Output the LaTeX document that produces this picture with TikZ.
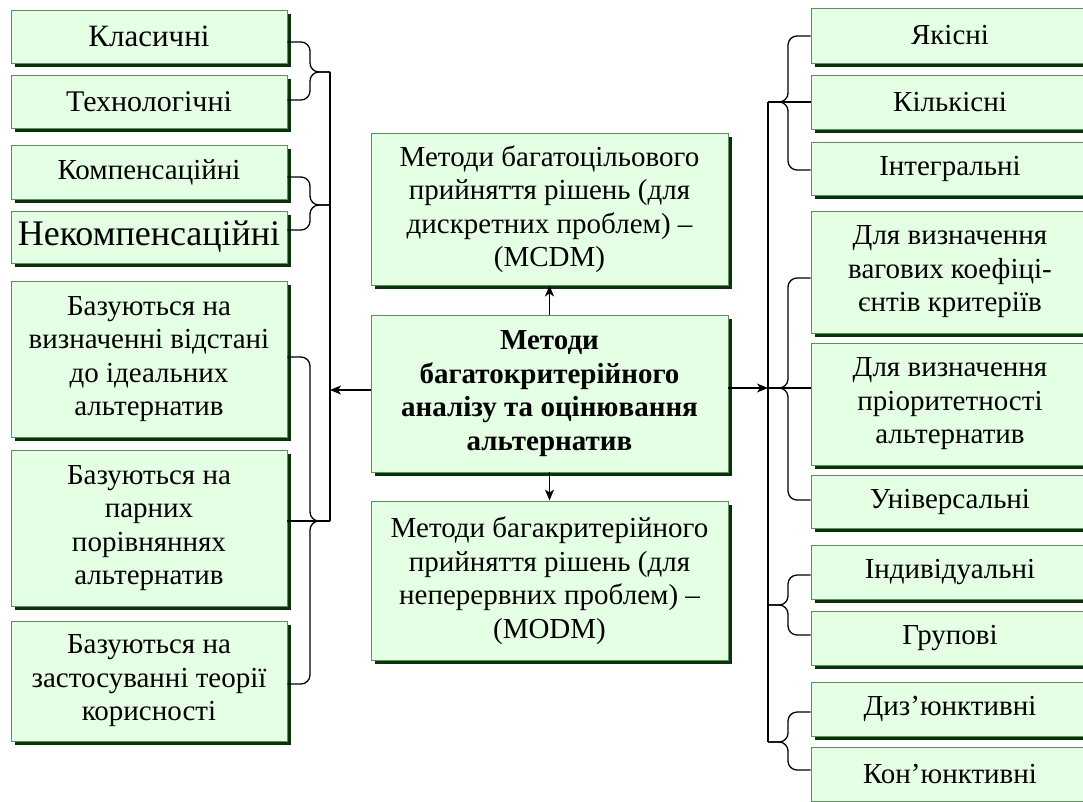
\documentclass[tikz,border=0pt]{standalone}
\usepackage{fontspec}
\setmainfont{Liberation Serif}
\usetikzlibrary{arrows.meta,shadows}
\definecolor{boxfill}{RGB}{229,255,229}
\definecolor{boxline}{RGB}{100,138,100}
\definecolor{shadowgreen}{RGB}{6,52,6}
\tikzset{
  x=1pt, y=-1pt,
  box/.style={rectangle, draw=boxline, line width=0.9pt, fill=boxfill, inner sep=0pt,
    align=center, font=\fontsize{29}{33.5}\selectfont,
    drop shadow={shadow xshift=3.5pt, shadow yshift=-3.5pt, fill=shadowgreen, opacity=1}},
  lbox/.style={box, minimum width=276pt},
  cbox/.style={box, minimum width=357pt},
  rbox/.style={box, minimum width=278pt},
  conn/.style={draw=black, line width=1.3pt},
  brc/.style={conn, rounded corners=9pt},
  arr/.style={conn, -{Stealth[length=11pt,width=9pt,inset=3pt]}}
}
\begin{document}
\begin{tikzpicture}
\useasboundingbox (0,0) rectangle (1083,801);

% left column
\node[lbox, minimum height=53pt, font=\fontsize{31}{34}\selectfont]  (L1) at (149,36.5) {Класичні};
\node[lbox, minimum height=53pt, font=\fontsize{30}{34}\selectfont]  (L2) at (149,101.5) {Технологічні};
\node[lbox, minimum height=54pt]  (L3) at (149,172) {Компенсаційні};
\node[lbox, minimum height=52pt, font=\fontsize{36}{38}\selectfont]  (L4) at (149,237) {Некомпенсаційні};
\node[lbox, minimum height=156pt] (L5) at (149,359) {Базуються на\\визначенні відстані\\до ідеальних\\альтернатив};
\node[lbox, minimum height=156pt] (L6) at (149,528) {Базуються на\\парних\\порівняннях\\альтернатив};
\node[lbox, minimum height=120pt] (L7) at (149,681) {Базуються на\\застосуванні теорії\\корисності};

% centre column
\node[cbox, minimum height=152pt] (C1) at (549.5,209) {Методи багатоцільового\\прийняття рішень (для\\дискретних проблем) –\\(MCDM)};
\node[cbox, minimum height=157pt, font=\fontsize{29}{33.5}\selectfont\bfseries] (C0) at (549.5,393.5) {Методи\\багатокритерійного\\аналізу та оцінювання\\альтернатив};
\node[cbox, minimum height=159pt] (C2) at (549.5,580.5) {Методи багакритерійного\\прийняття рішень (для\\неперервних проблем) –\\(MODM)};

% right column
\node[rbox, minimum height=55pt]  (R1) at (950,35.5) {Якісні};
\node[rbox, minimum height=54pt]  (R2) at (950,102) {Кількісні};
\node[rbox, minimum height=53pt]  (R3) at (950,168.5) {Інтегральні};
\node[rbox, minimum height=122pt] (R4) at (950,272) {Для визначення\\вагових коефіці-\\єнтів критеріїв};
\node[rbox, minimum height=122pt] (R5) at (950,404) {Для визначення\\пріоритетності\\альтернатив};
\node[rbox, minimum height=53pt]  (R6) at (950,501.5) {Універсальні};
\node[rbox, minimum height=54pt]  (R7) at (950,572) {Індивідуальні};
\node[rbox, minimum height=54pt]  (R8) at (950,638) {Групові};
\node[rbox, minimum height=54pt]  (R9) at (950,709) {Диз’юнктивні};
\node[rbox, minimum height=54pt]  (R10) at (950,774) {Кон’юнктивні};

% brace tips on the left trunk
\coordinate (lt1) at (330,72);
\coordinate (lt2) at (330,205);
\coordinate (lt3) at (330,521);
\coordinate (lin) at (330,390);
% brace tips on the right trunk
\coordinate (rt1) at (768,102);
\coordinate (rt2) at (768,388);
\coordinate (rt3) at (768,605);
\coordinate (rt4) at (768,742);

% left braces
\draw[brc] ([yshift=-5.5pt]L1.east) -- (310,42) -- (310,72) -- (lt1);
\draw[brc] ([yshift=1.5pt]L2.east) -- (310,100) -- (310,72) -- (lt1);
\draw[brc] ([yshift=-5pt]L3.east) -- (310,177) -- (310,205) -- (lt2);
\draw[brc] ([yshift=7pt]L4.east) -- (310,230) -- (310,205) -- (lt2);
\draw[brc] ([yshift=2pt]L5.east) -- (310,357) -- (310,521) -- (lt3);
\draw[brc] ([yshift=-3pt]L7.east) -- (310,684) -- (310,521) -- (lt3);
\draw[conn] (L6.east |- lt3) -- (lt3);
\draw[conn] (lt1) -- (lt3);

% right braces
\draw[brc] ([yshift=-0.5pt]R1.west) -- (788,36) -- (788,102) -- (rt1);
\draw[brc] ([yshift=-1.5pt]R3.west) -- (788,170) -- (788,102) -- (rt1);
\draw[conn] (R2.west |- rt1) -- (rt1);
\draw[brc] ([yshift=-6pt]R4.west) -- (788,278) -- (788,388) -- (rt2);
\draw[brc] ([yshift=1.5pt]R6.west) -- (788,500) -- (788,388) -- (rt2);
\draw[conn] (R5.west |- rt2) -- (rt2);
\draw[brc] ([yshift=-3pt]R7.west) -- (788,575) -- (788,605) -- (rt3);
\draw[brc] ([yshift=3pt]R8.west) -- (788,635) -- (788,605) -- (rt3);
\draw[brc] ([yshift=-3pt]R9.west) -- (788,712) -- (788,742) -- (rt4);
\draw[brc] ([yshift=4pt]R10.west) -- (788,770) -- (788,742) -- (rt4);
\draw[conn] (rt1) -- (rt4);

% arrows from the central box
\draw[arr] (C0.west |- lin) -- (lin);
\draw[arr] (C0.east |- rt2) -- (rt2);
\draw[arr] (C0.north) -- (C1.south);
\draw[arr] (C0.south) -- (C2.north);
\end{tikzpicture}
\end{document}
